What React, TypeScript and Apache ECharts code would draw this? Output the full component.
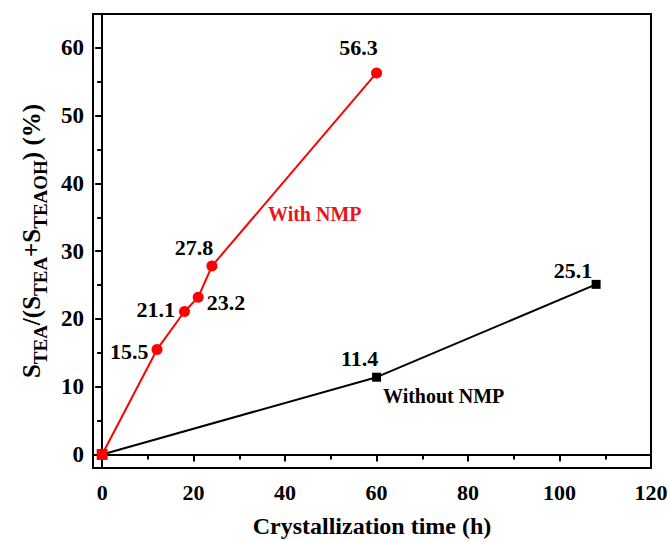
import React, { useEffect, useRef } from 'react';
import * as echarts from 'echarts';

const FONT = '"Liberation Serif", "Times New Roman", Times, serif';

// Data
const xWith = [0, 12, 18, 21, 24, 60];
const yWith = [0, 15.5, 21.1, 23.2, 27.8, 56.3];
const xWithout = [0, 60, 108];
const yWithout = [0, 11.4, 25.1];
const xTicks = [0, 20, 40, 60, 80, 100, 120];
const yTicks = [0, 10, 20, 30, 40, 50, 60];
const seriesNames = ['With NMP', 'Without NMP'];

export default function App() {
  const ref = useRef<HTMLDivElement>(null);
  useEffect(() => {
    const chart = echarts.init(ref.current!, null, { renderer: 'svg' });

    const redLabelPlacement: any[] = [
      { show: false },
      { position: 'left', distance: 3, offset: [0, 2] },
      { position: 'left', distance: 4, offset: [0, -2] },
      { position: 'right', distance: 3, offset: [0, 5] },
      { position: 'top', distance: 5, offset: [-18, 3] },
      { position: 'top', distance: 5, offset: [-18, -4] },
    ];
    const blackLabelPlacement: any[] = [
      { show: false },
      { position: 'top', distance: 5, offset: [-17, 2] },
      { position: 'top', distance: 5, offset: [-23, 7] },
    ];

    const labelBase = {
      show: true,
      color: '#000',
      fontFamily: FONT,
      fontWeight: 'bold',
      fontSize: 22,
      formatter: (p: any) => p.value[1].toFixed(1),
    };

    const axisCommon = {
      axisLine: { show: true, lineStyle: { color: '#000', width: 2 } },
      axisTick: { show: true, length: 7, lineStyle: { color: '#000', width: 2 } },
      minorTick: { show: true, splitNumber: 2, length: 5, lineStyle: { color: '#000', width: 2 } },
      splitLine: { show: false },
      minorSplitLine: { show: false },
    };

    chart.setOption({
      animation: false,
      backgroundColor: '#fff',
      grid: {
        left: 93,
        right: 19,
        top: 14,
        bottom: 73,
        show: true,
        borderColor: '#000',
        borderWidth: 2,
        backgroundColor: 'transparent',
        outerBoundsMode: 'none',
      },
      xAxis: {
        type: 'value',
        min: -2,
        max: 120,
        minInterval: 20,
        maxInterval: 20,
        ...axisCommon,
        axisTick: { ...axisCommon.axisTick, customValues: xTicks },
        axisLabel: {
          customValues: xTicks,
          margin: 13,
          color: '#000',
          fontFamily: FONT,
          fontWeight: 'bold',
          fontSize: 22,
        },
        name: 'Crystallization time (h)',
        nameLocation: 'middle',
        nameGap: 46,
        nameTextStyle: { color: '#000', fontFamily: FONT, fontWeight: 'bold', fontSize: 24 },
      },
      yAxis: {
        type: 'value',
        min: -2,
        max: 65,
        minInterval: 10,
        maxInterval: 10,
        ...axisCommon,
        axisTick: { ...axisCommon.axisTick, customValues: yTicks },
        axisLabel: {
          customValues: yTicks,
          margin: 9,
          color: '#000',
          fontFamily: FONT,
          fontWeight: 'bold',
          fontSize: 23,
        },
        name: '{m|S}{s|TEA}{m|/(S}{s|TEA}{m|+S}{s|TEAOH}{m|) (%)}',
        nameLocation: 'middle',
        nameRotate: 90,
        nameGap: 47,
        nameTextStyle: {
          color: '#000',
          rich: {
            m: { fontFamily: FONT, fontWeight: 'bold', fontSize: 25, lineHeight: 30, color: '#000' },
            s: { fontFamily: FONT, fontWeight: 'bold', fontSize: 19, lineHeight: 19, padding: [18, 0, 0, 0], color: '#000' },
          },
        },
      },
      series: [
        {
          name: seriesNames[1],
          type: 'line',
          z: 2,
          data: xWithout.map((x, i) => ({ value: [x, yWithout[i]], label: blackLabelPlacement[i] })),
          symbol: 'rect',
          symbolSize: 9,
          itemStyle: { color: '#000' },
          lineStyle: { color: '#000', width: 2 },
          label: labelBase,
        },
        {
          name: seriesNames[0],
          type: 'line',
          z: 3,
          data: xWith.map((x, i) => ({ value: [x, yWith[i]], label: redLabelPlacement[i] })),
          symbol: (_v: any, p: any) => (p.dataIndex === 0 ? 'rect' : 'circle'),
          symbolSize: 11,
          itemStyle: { color: '#ff0000' },
          lineStyle: { color: '#ff0000', width: 2 },
          label: labelBase,
        },
      ],
      graphic: [
        {
          type: 'text',
          left: 268,
          top: 204,
          style: { text: seriesNames[0], fill: '#e8141b', font: `bold 20px ${FONT}` },
        },
        {
          type: 'text',
          left: 383,
          top: 386,
          style: { text: seriesNames[1], fill: '#000', font: `bold 20px ${FONT}` },
        },
      ],
    });
    return () => chart.dispose();
  }, []);
  return <div ref={ref} style={{ position: 'absolute', left: 0, top: 0, width: 670, height: 541 }} />;
}
